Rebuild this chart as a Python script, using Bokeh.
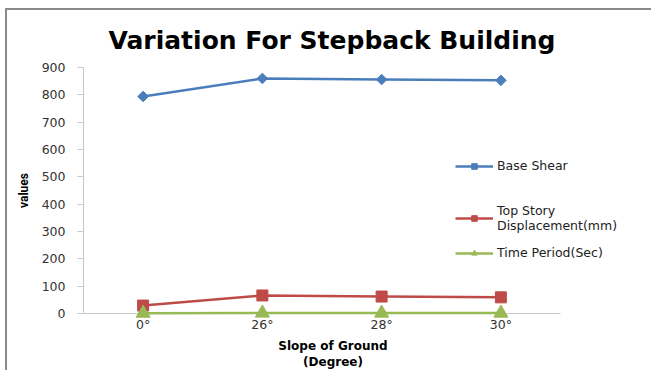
import numpy as np
from bokeh.plotting import figure
from bokeh.models import (Range1d, FixedTicker, Legend, LegendItem, ColumnDataSource)
from bokeh.embed import file_html
from bokeh.resources import INLINE

# ---- data ----
slopes = ["0°", "26°", "28°", "30°"]
base_shear = [794, 860, 856, 853]
top_disp = [29, 66, 62, 59]
time_period = [1.25, 1.6, 1.5, 1.45]
y_ticks = [0, 100, 200, 300, 400, 500, 600, 700, 800, 900]

BLUE = "#4A7EBB"
RED = "#BE4B48"
GREEN = "#98B954"
FONT = "DejaVu Sans"

xpos = [i + 0.5 for i in range(len(slopes))]
PAD = "\u00a0" * 17

W, H = 646, 362
p = figure(width=W, height=H, x_range=Range1d(0, 4.78), y_range=Range1d(0, 900),
           output_backend="svg", toolbar_location=None,
           min_border_left=76, min_border_right=0, min_border_top=57, min_border_bottom=59,
           styles={"border-left": "2px solid #8A8A8A", "border-top": "2px solid #8A8A8A",
                   "margin-left": "5px", "margin-top": "8px"})
p.outline_line_color = None
p.xgrid.grid_line_color = None
p.ygrid.grid_line_color = None
p.background_fill_color = "white"
p.border_fill_color = "white"

p.title.text = "Variation For Stepback Building"
p.title.align = "left"
p.title.offset = 25
p.title.standoff = 26
p.title.text_font = FONT
p.title.text_font_style = "bold"
p.title.text_font_size = "25px"
p.title.text_color = "black"

# axes
p.yaxis.ticker = FixedTicker(ticks=y_ticks)
p.yaxis.axis_line_color = "#C8C8C8"
p.yaxis.major_tick_line_color = "#C8C8C8"
p.yaxis.major_tick_out = 6
p.yaxis.major_tick_in = 0
p.yaxis.minor_tick_line_color = None
p.yaxis.major_label_standoff = 12
p.yaxis.major_label_text_font = FONT
p.yaxis.major_label_text_font_size = "12.5px"
p.yaxis.major_label_text_color = "#333333"
p.yaxis.axis_label = "values"
p.yaxis.axis_label_text_font = "Roboto"
p.yaxis.axis_label_text_font_style = "bold"
p.yaxis.axis_label_text_font_size = "12px"
p.yaxis.axis_label_text_color = "black"
p.yaxis.axis_label_standoff = 8

p.xaxis.ticker = FixedTicker(ticks=xpos)
p.xaxis.major_label_overrides = {x: s for x, s in zip(xpos, slopes)}
p.xaxis.bounds = (0, len(slopes))
p.xaxis.axis_line_color = "#C8C8C8"
p.xaxis.major_tick_line_color = None
p.xaxis.minor_tick_line_color = None
p.xaxis.major_tick_out = 0
p.xaxis.minor_tick_out = 0
p.xaxis.major_label_standoff = 3
p.xaxis.major_label_text_font = FONT
p.xaxis.major_label_text_font_size = "12.5px"
p.xaxis.major_label_text_color = "#333333"
p.xaxis.axis_label = "Slope of Ground" + PAD + "\n(Degree)" + PAD
p.xaxis.axis_label_text_font = FONT
p.xaxis.axis_label_text_font_style = "bold"
p.xaxis.axis_label_text_font_size = "12px"
p.xaxis.axis_label_text_color = "black"
p.xaxis.axis_label_standoff = 4

src = ColumnDataSource(dict(x=xpos, bs=base_shear, td=top_disp, tp=time_period))

l1 = p.line("x", "bs", source=src, line_color=BLUE, line_width=2.5)
m1 = p.scatter("x", "bs", source=src, marker="square", angle=np.pi / 4, size=7.5,
               fill_color=BLUE, line_color=BLUE)
l2 = p.line("x", "td", source=src, line_color=RED, line_width=2.5)
m2 = p.scatter("x", "td", source=src, marker="square", size=11,
               fill_color=RED, line_color=RED)
l3 = p.line("x", "tp", source=src, line_color=GREEN, line_width=2.5, level="overlay")
m3 = p.scatter("x", "tp", source=src, marker="triangle", size=14,
               fill_color=GREEN, line_color=GREEN, level="overlay")

def make_legend(label, rends, loc):
    lg = Legend(items=[LegendItem(label=label, renderers=rends)], location=loc,
                padding=0, margin=0, spacing=0, border_line_color=None,
                background_fill_alpha=0, glyph_width=38, glyph_height=14,
                label_height=14, label_standoff=4,
                label_text_font=FONT, label_text_font_size="12.5px",
                label_text_color="#222222")
    p.add_layout(lg, "center")

make_legend("Base Shear", [l1, m1], (372, 140))
make_legend("Top Story\nDisplacement(mm)", [l2, m2], (372, 80))
make_legend("Time Period(Sec)", [l3, m3], (372, 53))

open("out.html", "w").write(file_html(p, INLINE))
